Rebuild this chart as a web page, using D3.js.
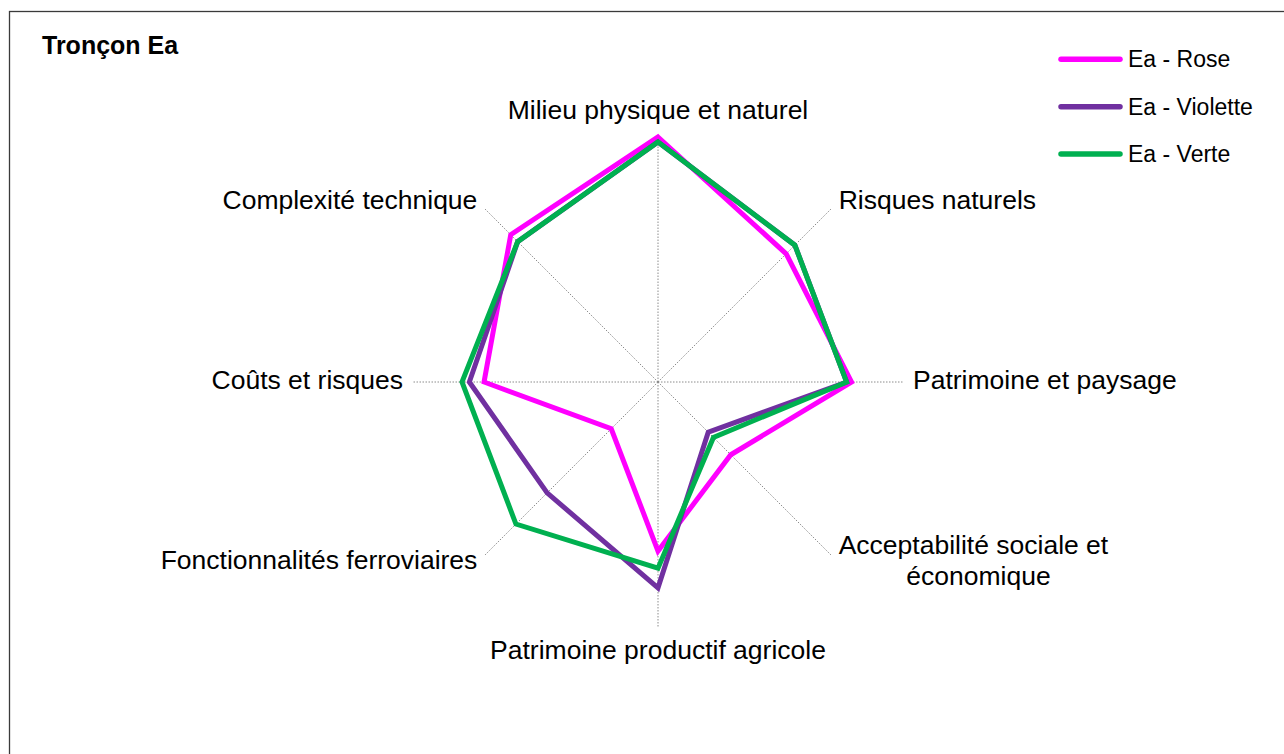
<!DOCTYPE html>
<html>
<head>
<meta charset="utf-8">
<script src="https://cdn.jsdelivr.net/npm/d3@7"></script>
<style>
  html, body { margin: 0; padding: 0; background: #fff; }
  svg { display: block; font-family: "Liberation Sans", Arial, sans-serif; }
</style>
</head>
<body>
<svg id="chart" width="1284" height="754"></svg>
<script>
// ---- Data ----
const title = "Tronçon Ea";
const categories = [
  "Milieu physique et naturel",
  "Risques naturels",
  "Patrimoine et paysage",
  "Acceptabilité sociale et\néconomique",
  "Patrimoine productif agricole",
  "Fonctionnalités ferroviaires",
  "Coûts et risques",
  "Complexité technique"
];
const seriesNames = ["Ea - Rose", "Ea - Violette", "Ea - Verte"];
const seriesColors = ["#FF00FF", "#7030A0", "#00B050"];
const roseValues     = [100, 74, 79, 42, 69, 27, 71, 85];
const violetteValues = [98, 79, 77, 29, 84, 64, 77, 81];
const verteValues    = [98, 79, 77, 32, 76, 82, 80, 81];
const seriesValues = [roseValues, violetteValues, verteValues];
const axisMax = 100;

// ---- Layout ----
const svg = d3.select("#chart");
const cx = 658, cy = 382, R = 245;

// frame
svg.append("rect")
  .attr("x", 9.5).attr("y", 11.5)
  .attr("width", 1300).attr("height", 800)
  .attr("fill", "none").attr("stroke", "#3a3a3a").attr("stroke-width", 1.3);

// title
svg.append("text")
  .attr("x", 42).attr("y", 54)
  .attr("font-size", 25).attr("font-weight", "bold").attr("fill", "#000")
  .text(title);

const g = svg.append("g").attr("transform", `translate(${cx},${cy})`);

const angle = d3.scaleLinear().domain([0, categories.length]).range([0, 2 * Math.PI]);
const r = d3.scaleLinear().domain([0, axisMax]).range([0, R]);

// spokes
categories.forEach((c, i) => {
  const a = angle(i);
  g.append("line")
    .attr("x1", 0).attr("y1", 0)
    .attr("x2", Math.sin(a) * r(axisMax)).attr("y2", -Math.cos(a) * r(axisMax))
    .attr("stroke", "#8c8c8c").attr("stroke-width", 1)
    .attr("stroke-dasharray", "1.5,1.5");
});

// category labels
categories.forEach((c, i) => {
  const a = angle(i);
  const s = Math.sin(a), co = Math.cos(a);
  const ex = s * r(axisMax), ey = -co * r(axisMax);
  const vertical = Math.abs(co) > 0.99;
  const horizontal = Math.abs(s) > 0.99;
  const tx = ex + s * (horizontal ? 10 : 10.5);
  const ty = ey - co * (vertical ? 25 : 10) - 2.5;
  const lines = c.split("\n");
  const lh = 31;
  const fs = 26.5;
  let anchor = "middle";
  if (!vertical) anchor = s > 0 ? "start" : "end";
  const t = g.append("text")
    .attr("font-size", fs).attr("fill", "#000")
    .attr("text-anchor", lines.length > 1 ? "middle" : anchor);
  if (lines.length === 1) {
    t.attr("x", tx).attr("y", ty + fs * 0.36).text(c);
  } else {
    const tmp = g.append("text").attr("font-size", fs).text(lines[0]);
    let maxW = 0;
    lines.forEach(l => { tmp.text(l); maxW = Math.max(maxW, tmp.node().getComputedTextLength()); });
    tmp.remove();
    const mid = anchor === "start" ? tx + maxW / 2 : (anchor === "end" ? tx - maxW / 2 : tx);
    const y0 = ty - (lines.length - 1) * lh / 2 + fs * 0.36;
    lines.forEach((l, k) => {
      t.append("tspan").attr("x", mid + (k > 0 ? 5 : 0)).attr("y", y0 + k * lh).text(l);
    });
  }
});

// series
const radial = d3.lineRadial()
  .angle((d, i) => angle(i))
  .radius(d => r(d))
  .curve(d3.curveLinearClosed);

seriesValues.forEach((vals, k) => {
  g.append("path")
    .attr("d", radial(vals))
    .attr("fill", "none")
    .attr("stroke", seriesColors[k])
    .attr("stroke-width", 5)
    .attr("stroke-linejoin", "miter");
});

// legend
const legend = svg.append("g");
const legY = d3.scalePoint().domain(seriesNames).range([59.3, 154]);
seriesNames.forEach((n, k) => {
  const y = legY(n);
  legend.append("line")
    .attr("x1", 1061).attr("x2", 1120).attr("y1", y).attr("y2", y)
    .attr("stroke", seriesColors[k]).attr("stroke-width", 5.5)
    .attr("stroke-linecap", "round");
  legend.append("text")
    .attr("x", 1128).attr("y", y + 8)
    .attr("font-size", 23).attr("fill", "#000")
    .text(n);
});
</script>
</body>
</html>
